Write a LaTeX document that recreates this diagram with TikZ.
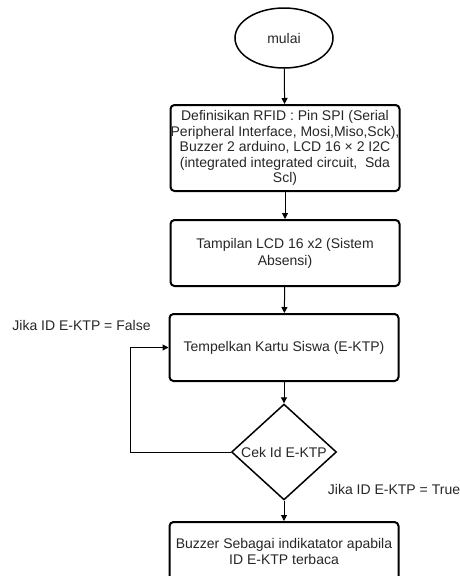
\documentclass[tikz,border=0pt]{standalone}
\usepackage{fontspec}
\setmainfont{Liberation Sans}
\usetikzlibrary{shapes.geometric,arrows.meta}
\tikzset{
  stepbox/.style={draw=black, line width=2pt, rounded corners=4pt, minimum width=229pt, inner sep=0pt, align=center, text=black!85},
  startnode/.style={draw=black, line width=1.5pt, ellipse, minimum width=98pt, minimum height=60pt, inner sep=0pt, text=black!85},
  decision/.style={draw=black, line width=1.5pt, diamond, minimum width=105pt, minimum height=85pt, inner sep=0pt, text=black!85},
  lbl/.style={inner sep=0pt, text=black!85},
  arr/.style={draw=black, line width=1pt, -{Triangle[length=6pt,width=6pt]}},
}
\begin{document}
\begin{tikzpicture}[x=1pt,y=-1pt,font={\fontsize{14}{16.8}\selectfont}]
\useasboundingbox (0,0) rectangle (460,576);
\clip (0,0) rectangle (460,576);
\node[startnode] (start) at (284,38) {mulai};
\node[stepbox, minimum height=86pt, font={\fontsize{14}{15.6}\selectfont}] (def) at (285,148)
  {Definisikan RFID : Pin SPI (Serial\\Peripheral Interface, Mosi,Miso,Sck),\\Buzzer 2 arduino, LCD 16 × 2 I2C\\(integrated integrated circuit,\ \ Sda\\Scl)};
\node[stepbox, minimum height=66pt] (lcd) at (285,253) {Tampilan LCD 16 x2 (Sistem\\Absensi)};
\node[stepbox, minimum height=67pt] (tempel) at (284,347.5) {Tempelkan Kartu Siswa (E-KTP)};
\node[decision] (cek) at (284,452) {Cek Id E-KTP};
\node[stepbox, minimum height=59pt] (buzz) at (284,551.5) {Buzzer Sebagai indikatator apabila\\ID E-KTP terbaca};
\node[lbl] (lfalse) at (81.5,325) {Jika ID E-KTP = False};
\node[lbl] (ltrue) at (394,489) {Jika ID E-KTP = True};
\draw[arr] (start) -- (def);
\draw[arr] (def) -- (lcd);
\draw[arr] (lcd) -- (tempel);
\draw[arr] (tempel) -- (cek);
\draw[arr] (cek) -- (buzz);
\draw[arr] (cek.west) -- ++(-100,0) |- (tempel.west);
\end{tikzpicture}
\end{document}
